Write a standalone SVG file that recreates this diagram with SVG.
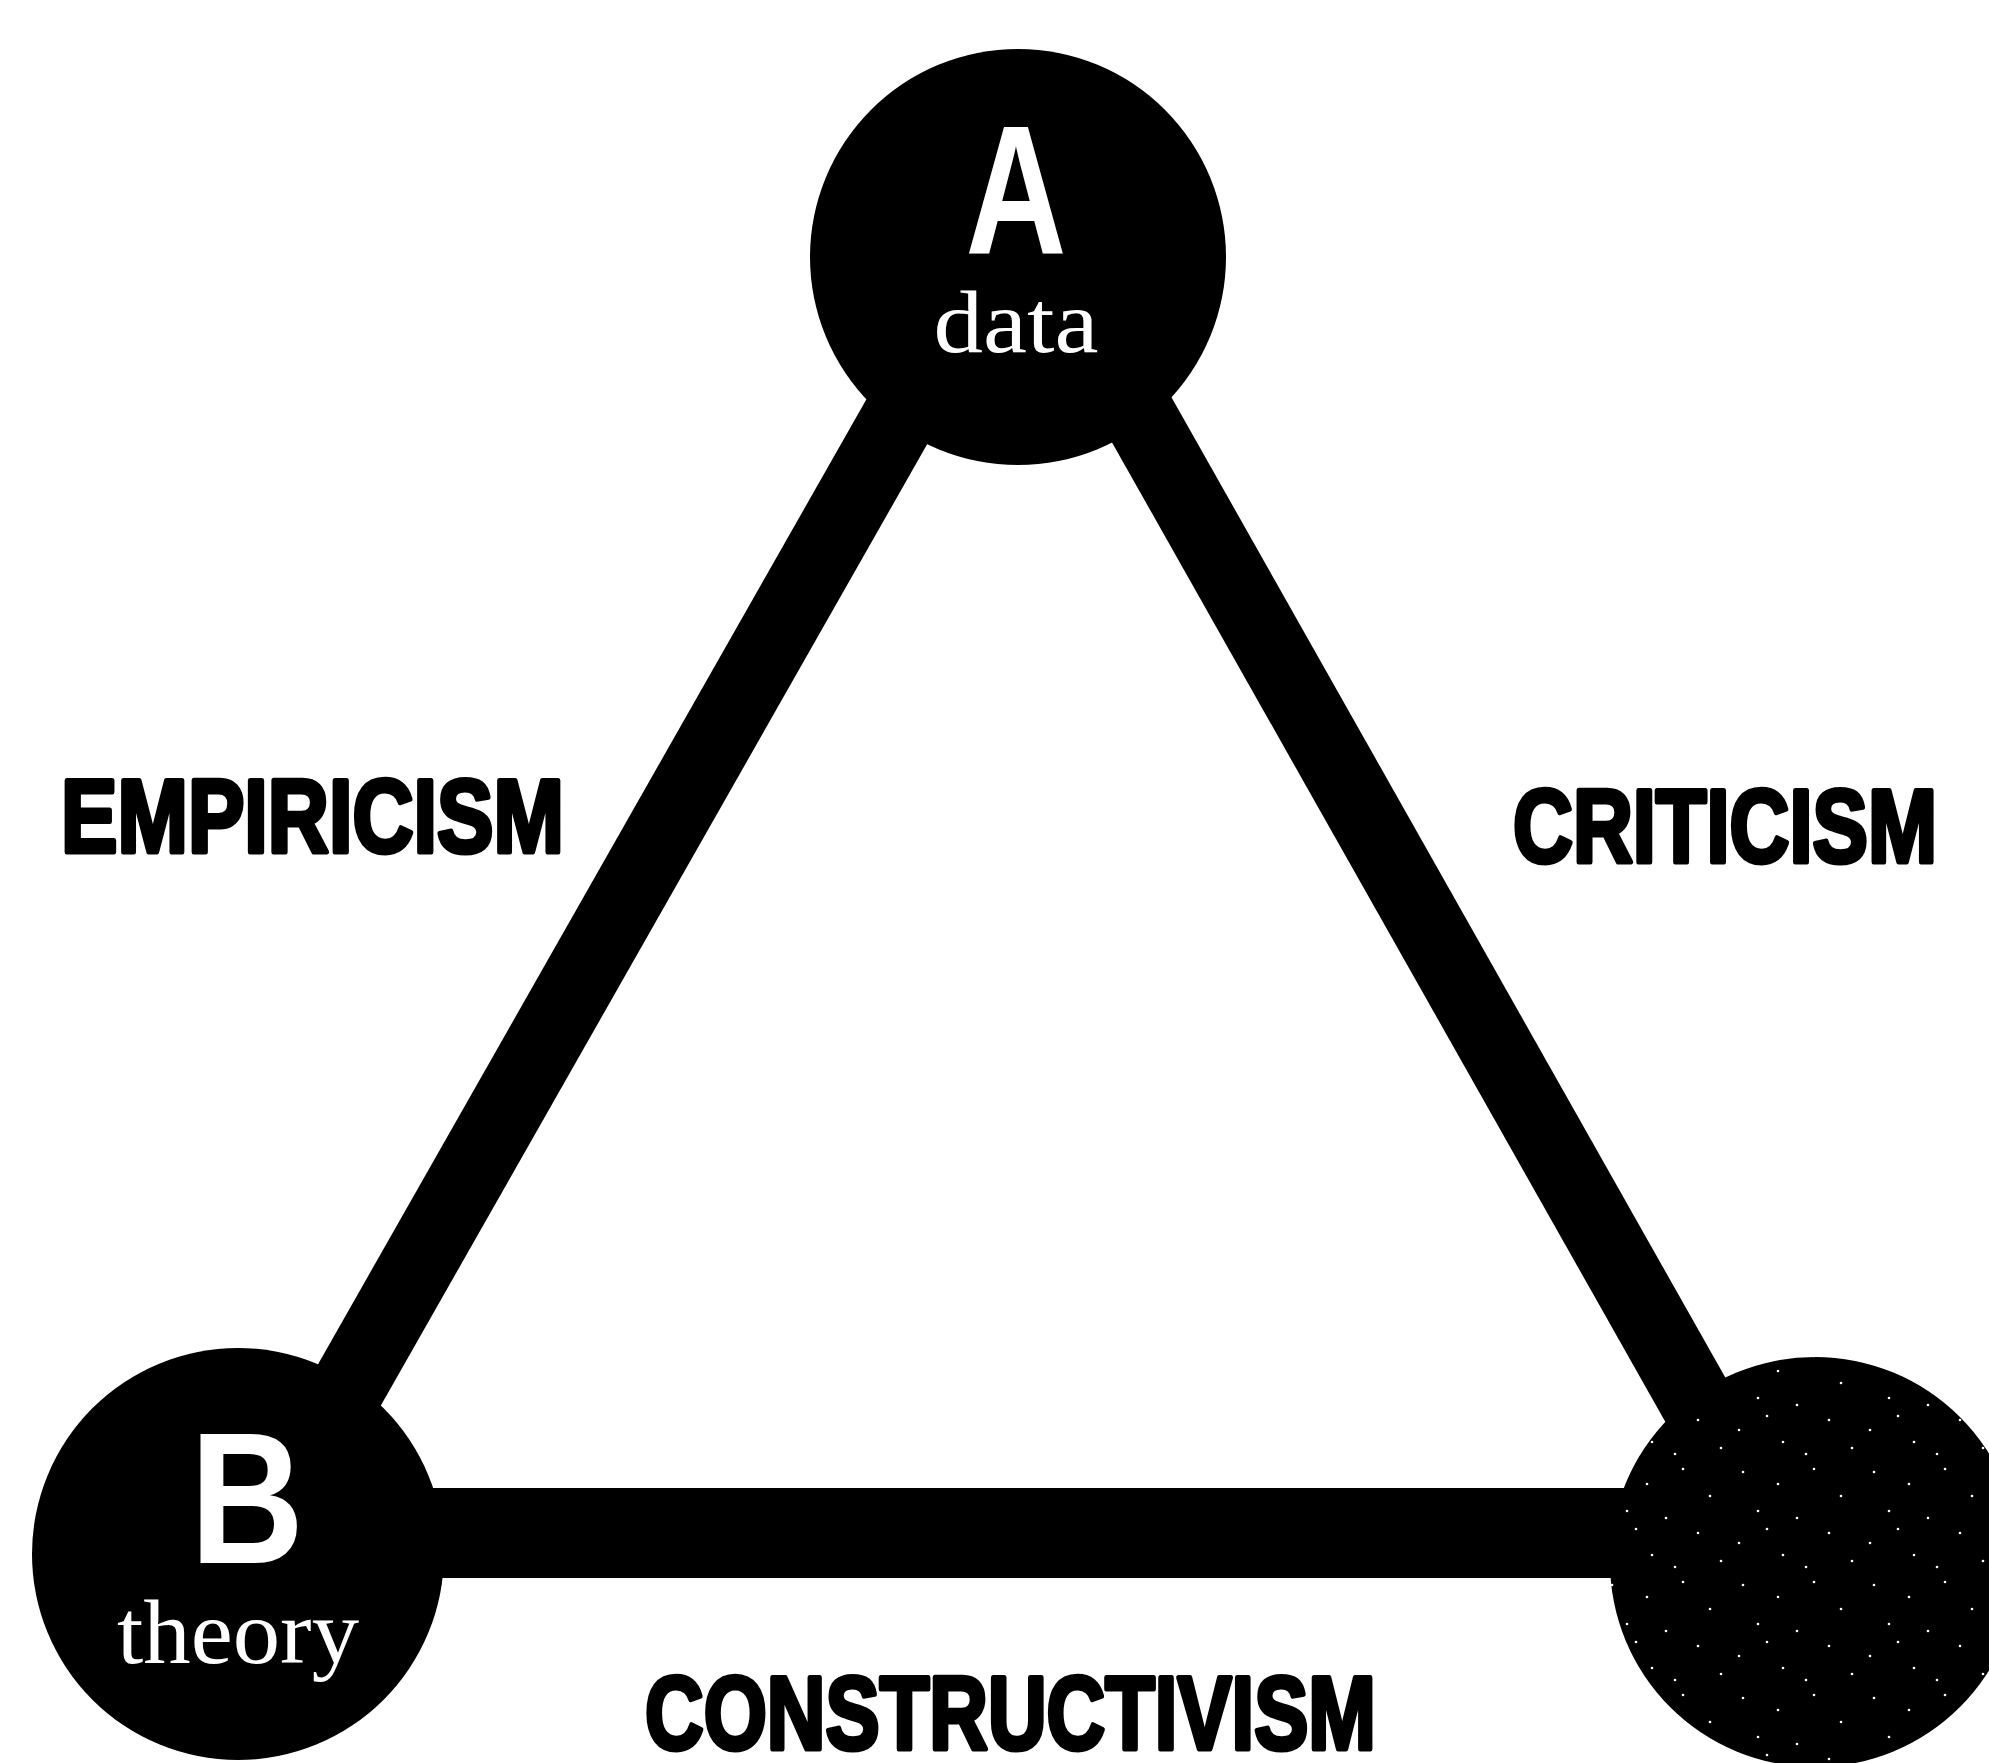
<svg xmlns="http://www.w3.org/2000/svg" width="1989" height="1763" viewBox="0 0 1989 1763">
  <style>
    .node { fill: #000; }
    .edge { stroke: #000; stroke-linecap: butt; fill: none; }
    .big { font-family: "Liberation Sans", Arial, sans-serif; font-weight: bold; fill: #fff; text-anchor: middle; }
    .small { font-family: "Liberation Serif", "Times New Roman", serif; fill: #fff; text-anchor: middle; }
    .label { font-family: "Liberation Sans", Arial, sans-serif; font-weight: bold; font-size: 103px; fill: #000; stroke: #000; stroke-width: 5; stroke-linejoin: round; }
  </style>
  <defs>
    <pattern id="speckle" patternUnits="userSpaceOnUse" x="1600" y="1350" width="131" height="113">
      <rect width="131" height="113" fill="#000"/>
      <g fill="#fff">
        <circle cx="12" cy="9" r="1.3"/>
        <circle cx="47" cy="21" r="1.3"/>
        <circle cx="83" cy="6" r="1.3"/>
        <circle cx="110" cy="33" r="1.3"/>
        <circle cx="27" cy="48" r="1.3"/>
        <circle cx="66" cy="55" r="1.3"/>
        <circle cx="98" cy="70" r="1.3"/>
        <circle cx="8" cy="80" r="1.3"/>
        <circle cx="52" cy="92" r="1.3"/>
        <circle cx="121" cy="98" r="1.3"/>
        <circle cx="75" cy="104" r="1.3"/>
        <circle cx="36" cy="66" r="1.3"/>
      </g>
    </pattern>
  </defs>
  <rect width="1989" height="1763" fill="#fff"/>

  <g id="connectors">
    <line class="edge" x1="966" y1="300" x2="284" y2="1500" stroke-width="75"/>
    <line class="edge" x1="1074" y1="300" x2="1752" y2="1500" stroke-width="74"/>
    <line class="edge" x1="238" y1="1533" x2="1815" y2="1533" stroke-width="90"/>
  </g>

  <g id="node-A">
    <circle class="node" cx="1018" cy="257" r="208"/>
    <text class="big" x="1016" y="253" font-size="184" textLength="101" lengthAdjust="spacingAndGlyphs">A</text>
    <text class="small" x="1016" y="352" font-size="88" textLength="165" lengthAdjust="spacingAndGlyphs">data</text>
  </g>

  <g id="node-B">
    <circle class="node" cx="238" cy="1554" r="206"/>
    <text class="big" x="247" y="1563" font-size="188" textLength="114" lengthAdjust="spacingAndGlyphs">B</text>
    <text class="small" x="238" y="1663" font-size="92" textLength="242" lengthAdjust="spacingAndGlyphs">theory</text>
  </g>

  <g id="node-C">
    <circle cx="1815" cy="1562" r="205" fill="url(#speckle)"/>
  </g>

  <g id="labels">
    <text class="label" x="61" y="852" textLength="503" lengthAdjust="spacingAndGlyphs">EMPIRICISM</text>
    <text class="label" x="1513" y="862" textLength="424" lengthAdjust="spacingAndGlyphs">CRITICISM</text>
    <text class="label" x="645" y="1749" textLength="731" lengthAdjust="spacingAndGlyphs">CONSTRUCTIVISM</text>
  </g>
</svg>
